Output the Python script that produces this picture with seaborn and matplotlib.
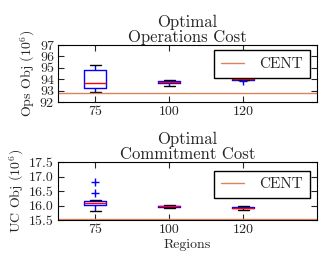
import pandas as pd
import seaborn as sns
import matplotlib.pyplot as plt

regions = ["75", "100", "120"]

ops_75 = [92.85, 93.0, 93.25, 93.5, 93.65, 94.2, 94.8, 95.0, 95.25]
ops_100 = [93.4, 93.6, 93.66, 93.72, 93.76, 93.8, 93.84, 93.87, 93.9]
ops_120 = [93.8, 93.95, 93.97, 93.98, 94.0, 94.01, 94.02, 94.03, 94.05]
ops_cent = 92.75

uc_75 = [15.8, 15.9, 15.98, 16.02, 16.03, 16.05, 16.07, 16.1, 16.14, 16.17, 16.2, 16.42, 16.82]
uc_100 = [15.9, 15.93, 15.95, 15.96, 15.97, 15.98, 15.99, 16.0, 16.03]
uc_120 = [15.86, 15.88, 15.9, 15.91, 15.92, 15.93, 15.95, 15.97, 15.98]
uc_cent = 15.52

cent_color = "#d9855b"


def long_df(groups):
    rows = []
    for reg, vals in zip(regions, groups):
        for v in vals:
            rows.append({"Regions": reg, "value": v})
    return pd.DataFrame(rows)


ops_df = long_df([ops_75, ops_100, ops_120])
uc_df = long_df([uc_75, uc_100, uc_120])

sns.set_style("ticks")
plt.rcParams["font.family"] = ["cmr10", "DejaVu Serif"]
plt.rcParams["axes.formatter.use_mathtext"] = True
plt.rcParams["mathtext.fontset"] = "cm"
plt.rcParams["xtick.direction"] = "in"
plt.rcParams["ytick.direction"] = "in"

fig = plt.figure(figsize=(3.32, 2.66), dpi=100)
ax1 = fig.add_axes([0.175, 0.6165, 0.780, 0.2143])
ax2 = fig.add_axes([0.175, 0.1729, 0.780, 0.218])

box_kw = dict(
    width=0.3, fill=False, whis=1.5,
    boxprops=dict(color="blue", linewidth=1.0),
    whiskerprops=dict(color="blue", linewidth=1.0, linestyle="-"),
    capprops=dict(color="black", linewidth=1.0),
    medianprops=dict(color="red", linewidth=1.0),
    flierprops=dict(marker="+", markeredgecolor="blue", markersize=6, linestyle="none"),
)


def draw(ax, df, cent, title, ylabel, ylim, yticks, ytickfmt, leg_anchor):
    sns.boxplot(data=df, x="Regions", y="value", order=regions, ax=ax, **box_kw)
    ax.axhline(cent, color=cent_color, linewidth=1.0, label="CENT")
    ax.set_xlim(-0.5, 3.0)
    ax.set_ylim(*ylim)
    ax.set_yticks(yticks)
    ax.set_yticklabels([ytickfmt.format(t) for t in yticks])
    ax.set_title(title, fontsize=12, pad=2, linespacing=1.0)
    ax.set_ylabel(ylabel, fontsize=10, labelpad=2)
    ax.tick_params(labelsize=10, top=True, right=True, length=4, pad=3)
    for s in ax.spines.values():
        s.set_visible(True)
        s.set_color("black")
    leg = ax.legend(loc="upper right", bbox_to_anchor=leg_anchor, fontsize=11,
                    handlelength=1.5, handletextpad=1.0, borderpad=0.45,
                    borderaxespad=0.0, fancybox=False, framealpha=1)
    leg.get_frame().set_edgecolor("black")


draw(ax1, ops_df, ops_cent, "Optimal\nOperations Cost", r"Ops Obj ($10^6$)",
     (92, 97), [92, 93, 94, 95, 96, 97], "{:.0f}", (0.973, 0.905))
ax1.set_xlabel("")

draw(ax2, uc_df, uc_cent, "Optimal\nCommitment Cost", r"UC Obj ($10^6$)",
     (15.5, 17.5), [15.5, 16.0, 16.5, 17.0, 17.5], "{:.1f}", (0.973, 0.85))
ax2.set_xlabel("Regions", fontsize=10, labelpad=2)

fig.savefig("out.png", dpi=100)
